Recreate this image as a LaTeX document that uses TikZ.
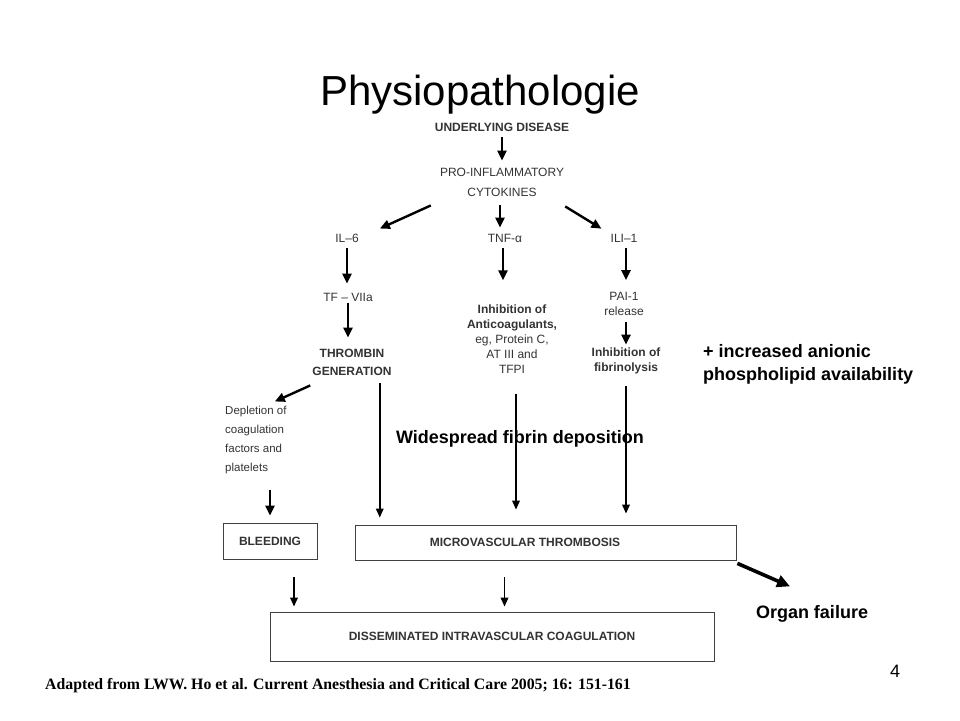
\documentclass[tikz,border=0pt]{standalone}
\usepackage{fontspec}
\setmainfont{Liberation Sans}
\newfontfamily\refserif{Liberation Serif}
\usetikzlibrary{arrows.meta, positioning, calc}
\newcommand{\fs}[2]{\fontsize{#1}{#2}\selectfont}

\begin{document}
\begin{tikzpicture}[x=1pt, y=-1pt,
  lbl/.style={inner sep=1pt, align=center, text=black!80, font=\fs{12}{14}},
  stage/.style={rectangle, draw=black!75, line width=0.8pt, inner sep=0pt, text=black!80, font=\bfseries\fs{12}{14}},
  note/.style={inner sep=0pt, align=left, font=\bfseries\fs{18}{23}},
  arrow/.style={-{Triangle[length=10pt, width=9pt]}, line width=2.4pt},
  thinarrow/.style={-{Triangle[length=9pt, width=7.5pt]}, line width=1.8pt},
  fatarrow/.style={-{Triangle[length=13pt, width=12pt]}, line width=3.6pt}
]
\useasboundingbox (0,0) rectangle (960,720);
\node[font=\fs{42}{46}, anchor=base] (title) at (480,105) {Physiopathologie};
\node[lbl, font=\bfseries\fs{12}{14}] (disease) at (502,127) {UNDERLYING DISEASE};
\node[lbl, font=\fs{12}{20}] (cytok) at (502,182) {PRO-INFLAMMATORY\\CYTOKINES};
\node[lbl] (il6) at (347,238) {IL–6};
\node[lbl] (tnf) at (505,238) {TNF-α};
\node[lbl] (ili) at (624,238) {ILI–1};
\node[lbl] (tf) at (348,297) {TF – VIIa};
\node[lbl, font=\fs{12}{15}] (pai) at (624,304) {PAI-1\\release};
\node[lbl, font=\fs{12}{15}] (anticoag) at (512,339) {\textbf{Inhibition of}\\\textbf{Anticoagulants,}\\eg, Protein C,\\AT III and\\TFPI};
\node[lbl, font=\bfseries\fs{12}{18}] (thromb) at (352,362) {THROMBIN\\GENERATION};
\node[lbl, font=\bfseries\fs{12}{15}] (fibrino) at (626,361) {Inhibition of\\fibrinolysis};
\node[note, anchor=west] (anionic) at (703,364) {+ increased anionic\\phospholipid availability};
\node[lbl, font=\fs{11.5}{19.3}, align=left, anchor=west] (deplet) at (224,440) {Depletion of\\coagulation\\factors and\\platelets};
\node[note] (spread) at (520,439) {Widespread fibrin deposition};
\node[stage, minimum width=94pt, minimum height=36pt] (bleed) at (270,541) {BLEEDING};
\node[stage, minimum width=381pt, minimum height=35pt] (micro) at (545.5,542.5) {};
\node[lbl, font=\bfseries\fs{12}{14}] (microtxt) at (525,542) {MICROVASCULAR THROMBOSIS};
\node[stage, minimum width=444pt, minimum height=49pt] (dic) at (492,636.5) {DISSEMINATED INTRAVASCULAR COAGULATION};
\node[note] (organ) at (812,614) {Organ failure};
\node[inner sep=0pt, font=\fs{18}{20}] (page) at (895,671) {4};
\node[inner sep=0pt, anchor=base west, font=\refserif\bfseries\fs{15.8}{18}] (source) at (45,689) {Adapted from LWW. Ho et al. Current Anesthesia and Critical Care 2005; 16: 151-161};

% cascade
\draw[arrow, shorten <=5pt, shorten >=6pt] (disease.south) -- (cytok.north);
\draw[arrow] ([shift={(-8pt,-8pt)}]cytok.south west) -- ([shift={(20pt,4pt)}]il6.north east);
\draw[arrow, shorten <=8pt, shorten >=5pt] ([xshift=-2pt]cytok.south) -- ([xshift=-2pt]cytok.south |- tnf.north);
\draw[arrow] ([shift={(0pt,-9pt)}]cytok.south east) -- ([shift={(-8pt,4pt)}]ili.north west);
\draw[arrow, shorten <=5pt, shorten >=8pt] (il6.south) -- (il6.south |- tf.north);
\draw[arrow, shorten <=5pt, shorten >=23pt] ([xshift=-2pt]tnf.south) -- ([xshift=-2pt]tnf.south |- anticoag.north);
\draw[arrow, shorten <=5pt, shorten >=11pt] ([xshift=2pt]ili.south) -- ([xshift=2pt]ili.south |- pai.north);
\draw[arrow, shorten <=1pt, shorten >=10pt] (tf.south) -- (tf.south |- thromb.north);
\draw[arrow, shorten <=5pt, shorten >=2pt] ([xshift=2pt]pai.south) -- ([xshift=2pt]pai.south |- fibrino.north);
\draw[arrow] ([shift={(-1pt,-9pt)}]thromb.south west) -- ([shift={(-13pt,3pt)}]deplet.north east);

% towards the boxes
\coordinate (thr-out) at ([xshift=-13pt]thromb.south east);
\coordinate (ant-out) at ([xshift=4pt]anticoag.south);
\draw[thinarrow, shorten <=7pt, shorten >=7pt] (thr-out) -- (thr-out |- micro.north);
\draw[thinarrow, shorten <=19pt, shorten >=15pt] (ant-out) -- (ant-out |- micro.north);
\draw[thinarrow, shorten <=11pt, shorten >=11pt] (fibrino.south) -- (fibrino.south |- micro.north);
\draw[arrow, shorten <=14pt, shorten >=7pt] (deplet.south -| bleed.north) -- (bleed.north);

% towards DIC
\coordinate (bl-out) at ([xshift=24pt]bleed.south);
\coordinate (mv-out) at ([xshift=-41pt]micro.south);
\draw[thinarrow, shorten <=18pt, shorten >=5pt] (bl-out) -- (bl-out |- dic.north);
\draw[thinarrow, shorten <=17pt, shorten >=5pt] (mv-out) -- (mv-out |- dic.north);
\draw[fatarrow] ([shift={(1pt,-3pt)}]micro.south east) -- ([shift={(-22pt,19pt)}]organ.north);
\end{tikzpicture}
\end{document}
